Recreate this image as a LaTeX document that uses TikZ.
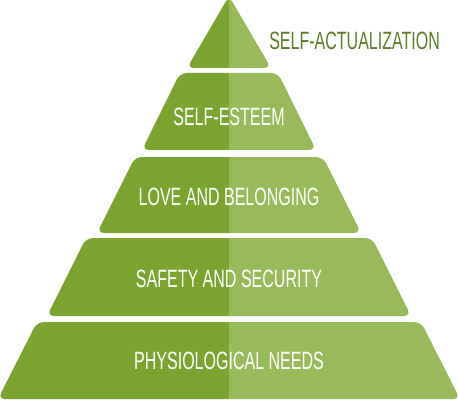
\documentclass[tikz,border=0pt]{standalone}
\usepackage{fontspec}
\newfontfamily\pyrfont[FakeStretch=0.64]{Liberation Sans}
\definecolor{leftgreen}{HTML}{7BA431}
\definecolor{rightgreen}{HTML}{99BA5A}
\definecolor{labelgreen}{HTML}{5A7D28}
\tikzset{
  tier/.style={rounded corners=5},
  tiertext/.style={text=white, inner sep=0, font=\pyrfont\fontsize{17.8}{20}\selectfont},
}
\begin{document}
\begin{tikzpicture}[x=0.025cm, y=-0.025cm]
\useasboundingbox (0,0) rectangle (459,400);
%Level 1
\begin{scope}
\clip[tier] (229,-4) -- (271,68) -- (187,68) -- cycle;
\fill[leftgreen] (0,-10) rectangle (229,70);
\fill[rightgreen] (229,-10) rectangle (459,70);
\end{scope}
%Level 2
\begin{scope}
\clip[tier] (180,73) -- (278,73) -- (316,150) -- (142,150) -- cycle;
\fill[leftgreen] (0,70) rectangle (229,152);
\fill[rightgreen] (229,70) rectangle (459,152);
\end{scope}
%Level 3
\begin{scope}
\clip[tier] (135,157) -- (323,157) -- (361,233) -- (97,233) -- cycle;
\fill[leftgreen] (0,155) rectangle (229,235);
\fill[rightgreen] (229,155) rectangle (459,235);
\end{scope}
%Level 4
\begin{scope}
\clip[tier] (86,238) -- (372,238) -- (411,316) -- (47,316) -- cycle;
\fill[leftgreen] (0,236) rectangle (229,318);
\fill[rightgreen] (229,236) rectangle (459,318);
\end{scope}
%Level 5
\begin{scope}
\clip[tier] (37,322) -- (421,322) -- (460,399) -- (-2,399) -- cycle;
\fill[leftgreen] (-5,320) rectangle (229,402);
\fill[rightgreen] (229,320) rectangle (465,402);
\end{scope}

\node[tiertext, text=labelgreen, anchor=west] (actual) at (269,40.5) {SELF-ACTUALIZATION};
\node[tiertext] (esteem) at (229,117) {SELF-ESTEEM};
\node[tiertext] (love) at (229,197) {LOVE AND BELONGING};
\node[tiertext] (safety) at (229,279) {SAFETY AND SECURITY};
\node[tiertext] (physio) at (229,361) {PHYSIOLOGICAL NEEDS};

\end{tikzpicture}
\end{document}
